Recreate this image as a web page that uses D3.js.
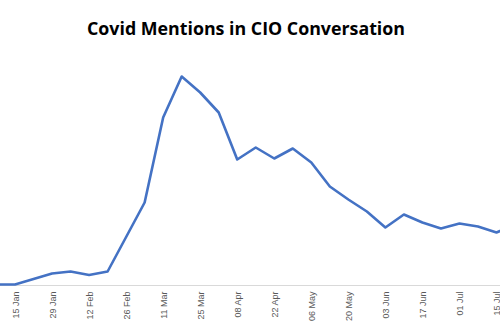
<!DOCTYPE html>
<html>
<head>
<meta charset="utf-8">
<script src="https://cdn.jsdelivr.net/npm/d3@7"></script>
<style>
  html, body { margin: 0; padding: 0; background: #ffffff; }
  svg { display: block; }
</style>
</head>
<body>
<svg id="chart" width="500" height="330"></svg>
<script>
// Weekly categories (2020)
const weeks = ["08 Jan","15 Jan","22 Jan","29 Jan","05 Feb","12 Feb","19 Feb","26 Feb",
  "04 Mar","11 Mar","18 Mar","25 Mar","01 Apr","08 Apr","15 Apr","22 Apr","29 Apr",
  "06 May","13 May","20 May","27 May","03 Jun","10 Jun","17 Jun","24 Jun","01 Jul",
  "08 Jul","15 Jul","22 Jul"];
// Mentions (relative count)
const mentions = [0,0,5.5,11,13,9.5,13,47.5,82,167,208,192,172,125,137,126,136,
  122,98,85,73,57,70,62,56,61,58,52,60];
// Tick labels shown (every other week)
const tickLabels = ["15 Jan","29 Jan","12 Feb","26 Feb","11 Mar","25 Mar","08 Apr",
  "22 Apr","06 May","20 May","03 Jun","17 Jun","01 Jul","15 Jul"];
const title = "Covid Mentions in CIO Conversation";

const svg = d3.select("#chart");

const x = d3.scalePoint().domain(weeks).range([-3.5, 515]);
const y = d3.scaleLinear().domain([0, 220]).range([284.5, 64.5]);

// Title
svg.append("text")
  .attr("x", 246).attr("y", 35)
  .attr("text-anchor", "middle")
  .attr("textLength", 318)
  .attr("lengthAdjust", "spacingAndGlyphs")
  .style("font-family", "'Open Sans', Lato, sans-serif")
  .style("font-weight", 700)
  .style("font-size", "17.5px")
  .attr("fill", "#000000")
  .text(title);

// X axis
const xAxis = d3.axisBottom(x)
  .tickValues(tickLabels)
  .tickSize(0)
  .tickPadding(0);

const gx = svg.append("g")
  .attr("transform", "translate(0,285.5)")
  .call(xAxis);
gx.select(".domain")
  .attr("d", "M-10,0H510")
  .attr("stroke", "#d9d9d9")
  .attr("stroke-width", 1.2);
gx.selectAll(".tick text")
  .attr("transform", "rotate(-90)")
  .attr("x", -6)
  .attr("y", 0)
  .attr("dy", "0.35em")
  .attr("text-anchor", "end")
  .attr("fill", "#595959")
  .style("font-family", "'Liberation Sans', Arial, sans-serif")
  .style("font-size", "9px");

// Line
const line = d3.line()
  .x((d, i) => x(weeks[i]))
  .y(d => y(d));

svg.append("path")
  .datum(mentions)
  .attr("d", line)
  .attr("fill", "none")
  .attr("stroke", "#4472C4")
  .attr("stroke-width", 2.6)
  .attr("stroke-linejoin", "round")
  .attr("stroke-linecap", "round");
</script>
</body>
</html>
